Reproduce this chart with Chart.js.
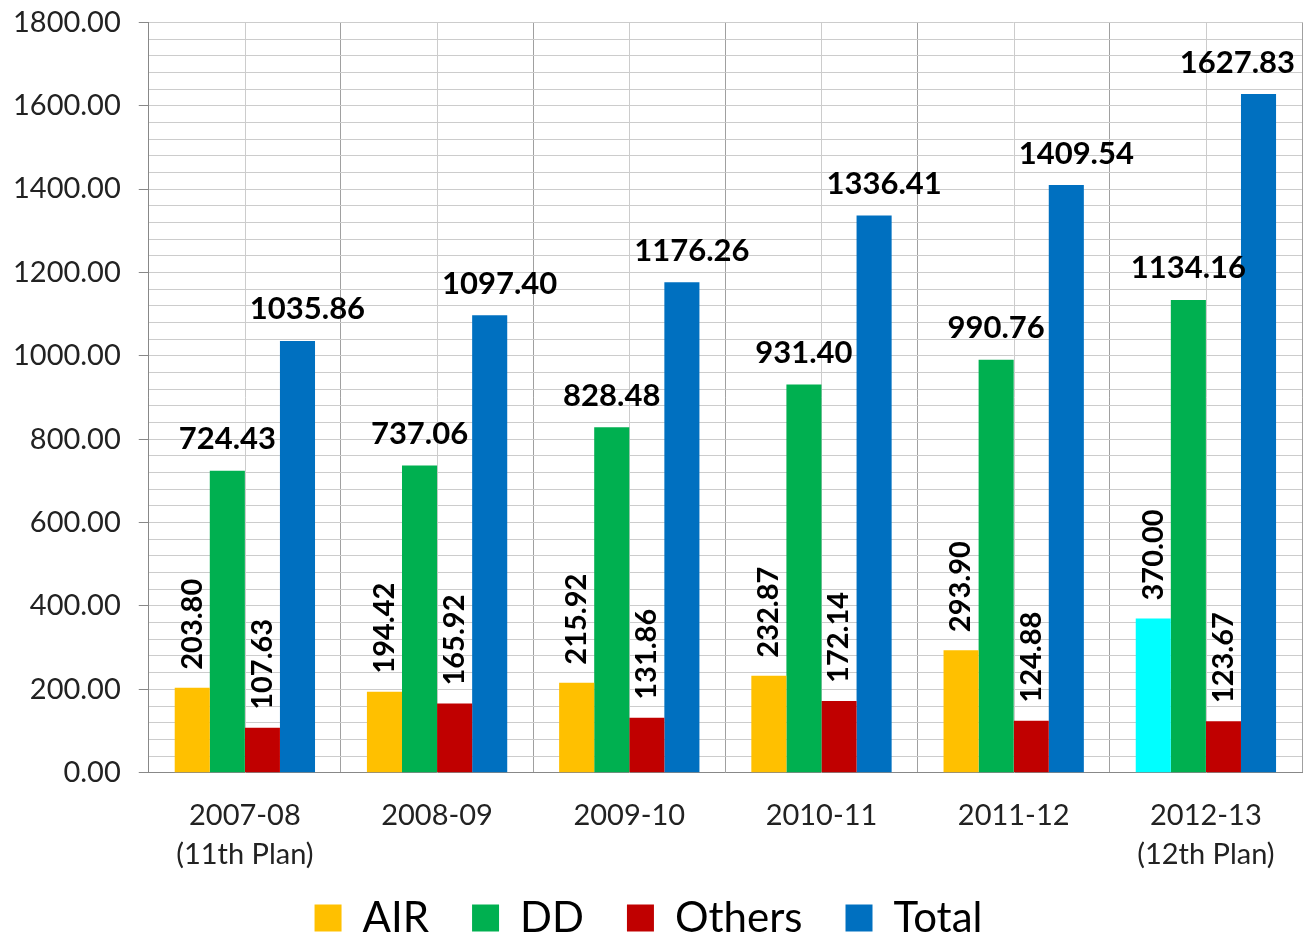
<!DOCTYPE html>
<html>
<head>
<meta charset="utf-8">
<script src="https://cdn.jsdelivr.net/npm/chart.js@4.4.1/dist/chart.umd.min.js"></script>
<style>
  body { margin: 0; background: #fff; }
  #chart { display: block; }
</style>
</head>
<body>
<canvas id="chart" width="1305" height="939"></canvas>
<script>
// categories and series values
const years = [['2007-08', '(11th Plan)'], '2008-09', '2009-10', '2010-11', '2011-12', ['2012-13', '(12th Plan)']];
const air = [203.80, 194.42, 215.92, 232.87, 293.90, 370.00];
const dd = [724.43, 737.06, 828.48, 931.40, 990.76, 1134.16];
const others = [107.63, 165.92, 131.86, 172.14, 124.88, 123.67];
const total = [1035.86, 1097.40, 1176.26, 1336.41, 1409.54, 1627.83];

//AIR bar for the last year is drawn cyan in the original
const airColors = ['#FFC000', '#FFC000', '#FFC000', '#FFC000', '#FFC000', '#00FFFF'];

const FONT = 'Lato, "Open Sans", sans-serif';

//light vertical lines through the middle of every group
const centerLines = {
    id: 'centerLines',
    beforeDatasetsDraw(chart){
        const ctx = chart.ctx;
        const x = chart.scales.x;
        const area = chart.chartArea;
        ctx.save();
        ctx.strokeStyle = '#cccccc';
        ctx.lineWidth = 1;
        years.forEach(function(y, i){
            const px = Math.round(x.getPixelForValue(i)) + 0.5;
            ctx.beginPath();
            ctx.moveTo(px, area.top);
            ctx.lineTo(px, area.bottom);
            ctx.stroke();
        });
        ctx.restore();
    }
};

//value labels: DD and Total flat, AIR and Others turned upright
const valueLabels = {
    id: 'valueLabels',
    afterDatasetsDraw(chart){
        const ctx = chart.ctx;
        ctx.save();
        ctx.fillStyle = '#000';
        chart.data.datasets.forEach(function(ds, di){
            const meta = chart.getDatasetMeta(di);
            meta.data.forEach(function(bar, i){
                const txt = ds.data[i].toFixed(2);
                if (di === 1 || di === 3){
                    ctx.font = 'bold 31px ' + FONT;
                    const w = ctx.measureText(txt).width;
                    let cx = di === 3 ? bar.x + 10 : bar.x; // total labels sit a little to the right
                    if (cx + w / 2 > chart.width - 10) cx = chart.width - 10 - w / 2; // keep inside like excel does
                    ctx.textAlign = 'center';
                    ctx.textBaseline = 'bottom';
                    ctx.fillText(txt, cx, bar.y - 16);
                } else {
                    ctx.font = 'bold 29px ' + FONT;
                    ctx.save();
                    ctx.translate(bar.x, bar.y - 18);
                    ctx.rotate(-Math.PI / 2);
                    ctx.textAlign = 'left';
                    ctx.textBaseline = 'middle';
                    ctx.fillText(txt, 0, 0);
                    ctx.restore();
                }
            });
        });
        ctx.restore();
    }
};

const chart = new Chart(document.getElementById('chart'), {
    type: 'bar',
    data: {
        labels: years,
        datasets: [
            { label: 'AIR', data: air, backgroundColor: airColors },
            { label: 'DD', data: dd, backgroundColor: '#00B050' },
            { label: 'Others', data: others, backgroundColor: '#C00000' },
            { label: 'Total', data: total, backgroundColor: '#0070C0' }
        ]
    },
    options: {
        responsive: false,
        animation: false,
        categoryPercentage: 0.73,
        barPercentage: 1.0,
        layout: { padding: { top: 0, right: 3, left: -5, bottom: -10 } },
        plugins: {
            legend: {
                position: 'bottom',
                labels: {
                    color: '#000',
                    font: { family: FONT, size: 42 },
                    boxWidth: 27,
                    boxHeight: 27,
                    padding: 0,
                    generateLabels(chart){
                        const n = chart.data.datasets.length;
                        return chart.data.datasets.map(function(ds, i){
                            const c = Array.isArray(ds.backgroundColor) ? ds.backgroundColor[0] : ds.backgroundColor;
                            // trailing spaces keep the items apart without growing the legend height
                            const t = i < n - 1 ? ds.label + '    ' : ds.label;
                            return { text: t, fillStyle: c, strokeStyle: c, lineWidth: 0, datasetIndex: i };
                        });
                    }
                }
            },
            tooltip: { enabled: false }
        },
        scales: {
            x: {
                grid: { offset: true, color: '#a0a0a0', drawTicks: false },
                border: { color: '#888' },
                ticks: {
                    color: '#222',
                    font: { family: FONT, size: 29, lineHeight: 1.35 },
                    padding: 23,
                    maxRotation: 0
                }
            },
            y: {
                min: 0,
                max: 1800,
                grid: {
                    color: '#cccccc',
                    tickLength: 10,
                    tickColor: function(c){ return c.tick && c.tick.value % 200 === 0 ? '#888' : 'rgba(0,0,0,0)'; }
                },
                border: { color: '#888' },
                ticks: {
                    stepSize: 40,
                    autoSkip: false,
                    color: '#222',
                    font: { family: FONT, size: 29, lineHeight: 0.3 },
                    padding: 18,
                    callback: function(v){ return v % 200 === 0 ? v.toFixed(2) : ''; }
                }
            }
        }
    },
    plugins: [centerLines, valueLabels]
});
</script>
</body>
</html>
